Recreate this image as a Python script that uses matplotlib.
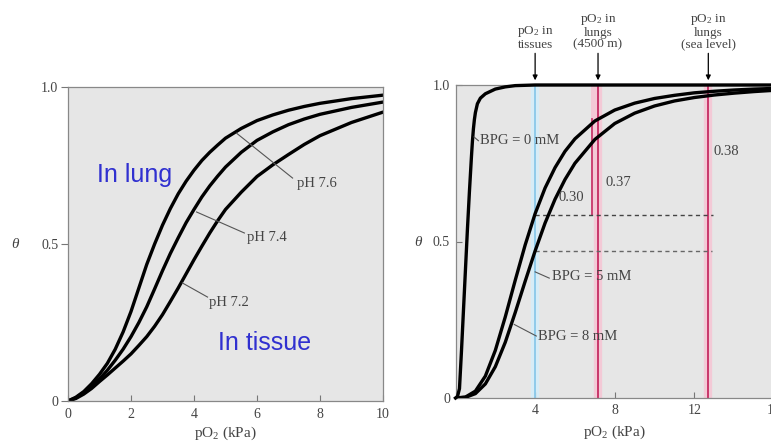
import matplotlib
matplotlib.use("Agg")
import matplotlib.pyplot as plt

plt.rcParams['font.family'] = ['Liberation Serif', 'DejaVu Serif']
plt.rcParams['mathtext.fontset'] = 'custom'
plt.rcParams['mathtext.rm'] = 'Liberation Serif'
plt.rcParams['mathtext.it'] = 'Liberation Serif:italic'

# ---- left panel: effect of pH ----
po2_left = [0, 0.25, 0.5, 0.75, 1, 1.25, 1.5, 1.75, 2, 2.25, 2.5, 2.75, 3,
            3.25, 3.5, 3.75, 4, 4.25, 4.5, 4.75, 5, 5.5, 6, 6.5, 7, 7.5, 8,
            9, 10]
theta_ph76 = [0, 0.012, 0.03, 0.055, 0.085, 0.12, 0.165, 0.22, 0.285, 0.36,
              0.435, 0.50, 0.56, 0.613, 0.66, 0.70, 0.735, 0.766, 0.792,
              0.815, 0.837, 0.868, 0.893, 0.911, 0.926, 0.938, 0.948, 0.963,
              0.974]
theta_ph74 = [0, 0.01, 0.027, 0.047, 0.07, 0.098, 0.13, 0.165, 0.205, 0.25,
              0.30, 0.357, 0.415, 0.47, 0.52, 0.568, 0.61, 0.65, 0.685, 0.716,
              0.745, 0.792, 0.83, 0.857, 0.88, 0.898, 0.913, 0.935, 0.952]
theta_ph72 = [0, 0.008, 0.022, 0.04, 0.062, 0.083, 0.105, 0.127, 0.15, 0.177,
              0.205, 0.238, 0.275, 0.317, 0.36, 0.405, 0.45, 0.493, 0.535,
              0.574, 0.61, 0.665, 0.715, 0.752, 0.785, 0.817, 0.845, 0.887,
              0.92]
ph_labels = ['pH 7.6', 'pH 7.4', 'pH 7.2']

# ---- right panel: effect of BPG ----
po2_bpg0 = [0, 0.1, 0.2, 0.3, 0.4, 0.5, 0.6, 0.7, 0.8, 0.85, 0.9, 0.95, 1.0,
            1.1, 1.25, 1.5, 2.0, 2.5, 3.0, 4.0, 16]
theta_bpg0 = [0, 0.005, 0.03, 0.15, 0.28, 0.41, 0.54, 0.66, 0.77, 0.82, 0.86,
              0.89, 0.912, 0.94, 0.958, 0.972, 0.987, 0.994, 0.998, 1.0, 1.0]
po2_right = [0, 0.5, 1, 1.5, 2, 2.5, 3, 3.5, 4, 4.5, 5, 5.5, 6, 7, 8, 9, 10,
             11, 12, 13, 14, 15, 16]
theta_bpg5 = [0, 0.003, 0.022, 0.07, 0.152, 0.259, 0.376, 0.489, 0.589, 0.671,
              0.736, 0.788, 0.828, 0.885, 0.92, 0.942, 0.957, 0.967, 0.975,
              0.98, 0.984, 0.987, 0.989]
theta_bpg8 = [0, 0.002, 0.014, 0.045, 0.10, 0.178, 0.273, 0.373, 0.47, 0.559,
              0.635, 0.698, 0.75, 0.826, 0.877, 0.91, 0.933, 0.949, 0.96,
              0.968, 0.974, 0.979, 0.983]

po2_tissue = 4.0
po2_4500m = 7.16
po2_sea = 12.7
theta_tissue_bpg5 = 0.585
theta_tissue_bpg8 = 0.47
theta_4500_bpg5 = 0.89
diff_labels = ['0.30', '0.37', '0.38']

BG = '#E6E6E6'
TXT = '#444444'
PINK = '#C8376B'
PINK_LIGHT = '#F3C9D6'
BLUE = '#8FCBEA'

fig = plt.figure(figsize=(7.71, 4.42), dpi=100)

# ================= left =================
ax = fig.add_axes([68 / 771, 41 / 442, 315 / 771, 314 / 442])
ax.set_facecolor(BG)
for th in (theta_ph76, theta_ph74, theta_ph72):
    ax.plot(po2_left, th, color='black', lw=2.4, solid_capstyle='round')
ax.set_xlim(0, 10)
ax.set_ylim(0, 1)
ax.set_xticks([0, 2, 4, 6, 8, 10])
ax.set_yticks([0, 0.5, 1.0])
ax.set_yticklabels(['0', '0.5', '1.0'])
ax.tick_params(axis='x', direction='in', length=4, labelsize=10,
               colors='#777777', labelcolor=TXT, pad=5)
ax.tick_params(axis='y', direction='out', length=5, labelsize=10,
               colors='#777777', labelcolor=TXT, pad=2)
for s in ax.spines.values():
    s.set_color('#888888')
    s.set_linewidth(0.9)
ax.set_xlabel(r'pO$_2$ (kPa)', fontsize=11, color=TXT, labelpad=3)
ax.set_ylabel(r'$\theta$', fontsize=11, color=TXT, rotation=0, labelpad=18,
              va='center')

# pH labels with leaders
lead = [((5.35, 0.853), (7.13, 0.71), (7.26, 0.694)),
        ((4.08, 0.602), (5.6, 0.535), (5.67, 0.522)),
        ((3.63, 0.376), (4.43, 0.331), (4.49, 0.315))]
for (p0, p1, pt), lab in zip(lead, ph_labels):
    ax.plot([p0[0], p1[0]], [p0[1], p1[1]], color='#555555', lw=0.8)
    ax.text(pt[0], pt[1], lab, fontsize=10.5, color=TXT, va='center')

ax.text(0.92, 0.72, 'In lung', fontsize=18, color='#3030D0',
        family='Liberation Sans', va='center')
ax.text(4.75, 0.185, 'In tissue', fontsize=18, color='#3030D0',
        family='Liberation Sans', va='center')

# ================= right =================
ax2 = fig.add_axes([455.5 / 771, 44 / 442, 318.5 / 771, 313 / 442])
ax2.set_facecolor(BG)
ax2.set_xlim(0, 16)
ax2.set_ylim(0, 1)

# reference lines
for x, c, cl in ((po2_tissue, BLUE, '#D6ECF6'), (po2_4500m, PINK, PINK_LIGHT),
                 (po2_sea, PINK, PINK_LIGHT)):
    ax2.axvline(x, color=cl, lw=6, zorder=1)
    ax2.axvline(x, color=c, lw=1.4, zorder=2)
ax2.fill_betweenx([theta_tissue_bpg5, 1.0], 6.8, po2_4500m, color=PINK_LIGHT,
                  zorder=1, lw=0)
ax2.plot([6.86, 6.86], [theta_tissue_bpg5, theta_4500_bpg5], color=PINK,
         lw=1.3, zorder=2)

ax2.plot([po2_tissue, 12.95], [theta_tissue_bpg5] * 2, color='#444444', lw=1,
         ls=(0, (3, 2.5)), zorder=3)
ax2.plot([po2_tissue, 12.9], [theta_tissue_bpg8] * 2, color='#666666', lw=1,
         ls=(0, (3, 2.5)), zorder=3)

ax2.plot(po2_bpg0, theta_bpg0, color='black', lw=2.4, zorder=4, clip_on=False)
ax2.plot(po2_right, theta_bpg5, color='black', lw=2.4, zorder=4)
ax2.plot(po2_right, theta_bpg8, color='black', lw=2.4, zorder=4)

ax2.set_xticks([4, 8, 12, 16])
ax2.set_yticks([0, 0.5, 1.0])
ax2.set_yticklabels(['0', '0.5', '1.0'])
ax2.tick_params(axis='both', direction='in', length=4, labelsize=10,
                colors='#777777', labelcolor=TXT, pad=4)
for s in ax2.spines.values():
    s.set_color('#888888')
    s.set_linewidth(0.9)
ax2.set_xlabel(r'pO$_2$ (kPa)', fontsize=11, color=TXT, labelpad=5)
ax2.set_ylabel(r'$\theta$', fontsize=11, color=TXT, rotation=0, labelpad=10,
               va='center')

# curve labels
ax2.plot([0.93, 1.15], [0.834, 0.822], color='#555555', lw=0.8, zorder=5)
ax2.text(1.23, 0.824, 'BPG = 0 mM', fontsize=10.5, color=TXT, va='center',
         zorder=5)
ax2.plot([4.0, 4.71], [0.403, 0.383], color='#555555', lw=0.8, zorder=5)
ax2.text(4.86, 0.387, 'BPG = 5 mM', fontsize=10.5, color=TXT, va='center',
         zorder=5)
ax2.plot([2.95, 4.06], [0.235, 0.198], color='#555555', lw=0.8, zorder=5)
ax2.text(4.16, 0.195, 'BPG = 8 mM', fontsize=10.5, color=TXT, va='center',
         zorder=5)

for (x, y), lab in zip(((5.16, 0.639), (7.53, 0.687), (12.97, 0.786)),
                       diff_labels):
    ax2.text(x, y, lab, fontsize=10.5, color=TXT, va='center', zorder=5)

# annotations above the panel
tops = [(po2_tissue, 'pO$_2$ in\ntissues'),
        (po2_4500m, 'pO$_2$ in\nlungs\n(4500 m)'),
        (po2_sea, 'pO$_2$ in\nlungs\n(sea level)')]
for x, lab in tops:
    ax2.annotate(lab, xy=(x, 1.015), xycoords='data',
                 xytext=(x, 1.11), textcoords='data',
                 ha='center', va='bottom', fontsize=9.5, color=TXT,
                 linespacing=0.95,
                 arrowprops=dict(arrowstyle='-|>', color='black', lw=0.9,
                                 mutation_scale=7, shrinkA=0, shrinkB=0),
                 annotation_clip=False)

fig.savefig('out.png', dpi=100)
